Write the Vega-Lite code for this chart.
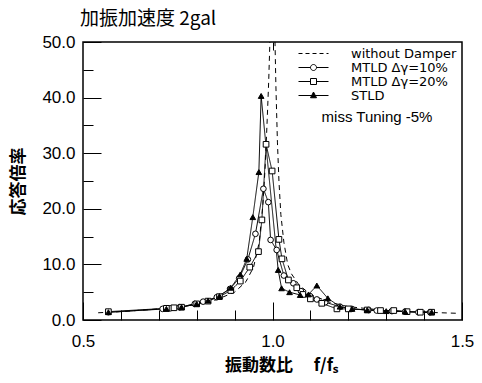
{
  "$schema": "https://vega.github.io/schema/vega-lite/v6.json",
  "width": 379,
  "height": 278,
  "autosize": {"type": "none"},
  "padding": {"left": 83, "top": 42, "right": 20, "bottom": 63},
  "background": "white",
  "title": {"text": "加振加速度 2gal", "anchor": "start", "frame": "group", "dx": -3, "font": "Noto Sans CJK JP", "fontSize": 19, "fontWeight": "normal", "color": "black", "offset": 4},
  "config": {
    "view": {"stroke": "black", "strokeWidth": 1.5},
    "axis": {"domain": false, "grid": false, "tickColor": "black", "tickWidth": 1, "labelColor": "black", "titleColor": "black", "labelFont": "Liberation Sans", "labelFontSize": 17, "titleFont": "Noto Sans CJK JP", "titleFontSize": 17, "titleFontWeight": "bold"},
    "legend": {"orient": "top-right", "offset": 5, "padding": 0, "titleOrient": "bottom", "titleAnchor": "middle", "titleFontSize": 15, "titleFontWeight": "normal", "titleFont": "Liberation Sans", "titleColor": "black", "titlePadding": 7, "labelFont": "DejaVu Sans", "labelFontSize": 13, "labelColor": "black", "labelOffset": 31, "symbolOffset": 10, "symbolSize": 100, "symbolStrokeWidth": 1, "symbolStrokeColor": "black", "symbolOpacity": 1, "rowPadding": 0}
  },
  "data": {"values": [
    {"s": "without Damper", "f": 0.54, "v": 1.3}, {"s": "without Damper", "f": 0.6, "v": 1.5}, {"s": "without Damper", "f": 0.7, "v": 2.0}, {"s": "without Damper", "f": 0.8, "v": 2.8}, {"s": "without Damper", "f": 0.85, "v": 3.6}, {"s": "without Damper", "f": 0.9, "v": 5.0}, {"s": "without Damper", "f": 0.93, "v": 6.9}, {"s": "without Damper", "f": 0.95, "v": 9.5}, {"s": "without Damper", "f": 0.965, "v": 14}, {"s": "without Damper", "f": 0.975, "v": 21}, {"s": "without Damper", "f": 0.981, "v": 28}, {"s": "without Damper", "f": 0.986, "v": 36}, {"s": "without Damper", "f": 0.99, "v": 43}, {"s": "without Damper", "f": 0.994, "v": 52}, {"s": "without Damper", "f": 0.999, "v": 62}, {"s": "without Damper", "f": 1.003, "v": 62}, {"s": "without Damper", "f": 1.006, "v": 52}, {"s": "without Damper", "f": 1.009, "v": 42}, {"s": "without Damper", "f": 1.013, "v": 32}, {"s": "without Damper", "f": 1.017, "v": 25}, {"s": "without Damper", "f": 1.022, "v": 19}, {"s": "without Damper", "f": 1.03, "v": 14}, {"s": "without Damper", "f": 1.04, "v": 10}, {"s": "without Damper", "f": 1.05, "v": 8.3}, {"s": "without Damper", "f": 1.07, "v": 6.3}, {"s": "without Damper", "f": 1.1, "v": 4.6}, {"s": "without Damper", "f": 1.15, "v": 3.2}, {"s": "without Damper", "f": 1.2, "v": 2.4}, {"s": "without Damper", "f": 1.3, "v": 1.7}, {"s": "without Damper", "f": 1.4, "v": 1.4}, {"s": "without Damper", "f": 1.49, "v": 1.2},

    {"s": "MTLD Δγ=10%", "f": 0.567, "v": 1.4}, {"s": "MTLD Δγ=10%", "f": 0.71, "v": 2.0}, {"s": "MTLD Δγ=10%", "f": 0.73, "v": 2.1}, {"s": "MTLD Δγ=10%", "f": 0.755, "v": 2.3}, {"s": "MTLD Δγ=10%", "f": 0.795, "v": 2.9}, {"s": "MTLD Δγ=10%", "f": 0.817, "v": 3.3}, {"s": "MTLD Δγ=10%", "f": 0.853, "v": 4.1}, {"s": "MTLD Δγ=10%", "f": 0.888, "v": 5.6}, {"s": "MTLD Δγ=10%", "f": 0.912, "v": 7.5}, {"s": "MTLD Δγ=10%", "f": 0.935, "v": 10.9}, {"s": "MTLD Δγ=10%", "f": 0.955, "v": 15.5}, {"s": "MTLD Δγ=10%", "f": 0.976, "v": 23.6}, {"s": "MTLD Δγ=10%", "f": 0.989, "v": 21.2}, {"s": "MTLD Δγ=10%", "f": 0.995, "v": 14.4}, {"s": "MTLD Δγ=10%", "f": 1.011, "v": 12.6}, {"s": "MTLD Δγ=10%", "f": 1.03, "v": 8.0}, {"s": "MTLD Δγ=10%", "f": 1.055, "v": 6.6}, {"s": "MTLD Δγ=10%", "f": 1.075, "v": 5.2}, {"s": "MTLD Δγ=10%", "f": 1.099, "v": 4.3}, {"s": "MTLD Δγ=10%", "f": 1.117, "v": 3.7}, {"s": "MTLD Δγ=10%", "f": 1.139, "v": 3.2}, {"s": "MTLD Δγ=10%", "f": 1.178, "v": 2.4}, {"s": "MTLD Δγ=10%", "f": 1.209, "v": 2.0}, {"s": "MTLD Δγ=10%", "f": 1.253, "v": 1.8}, {"s": "MTLD Δγ=10%", "f": 1.275, "v": 1.7}, {"s": "MTLD Δγ=10%", "f": 1.315, "v": 1.6}, {"s": "MTLD Δγ=10%", "f": 1.35, "v": 1.5}, {"s": "MTLD Δγ=10%", "f": 1.385, "v": 1.4}, {"s": "MTLD Δγ=10%", "f": 1.416, "v": 1.4},

    {"s": "MTLD Δγ=20%", "f": 0.567, "v": 1.5}, {"s": "MTLD Δγ=20%", "f": 0.72, "v": 2.1}, {"s": "MTLD Δγ=20%", "f": 0.74, "v": 2.2}, {"s": "MTLD Δγ=20%", "f": 0.76, "v": 2.3}, {"s": "MTLD Δγ=20%", "f": 0.8, "v": 2.9}, {"s": "MTLD Δγ=20%", "f": 0.83, "v": 3.4}, {"s": "MTLD Δγ=20%", "f": 0.86, "v": 4.2}, {"s": "MTLD Δγ=20%", "f": 0.89, "v": 5.3}, {"s": "MTLD Δγ=20%", "f": 0.915, "v": 7.0}, {"s": "MTLD Δγ=20%", "f": 0.94, "v": 9.5}, {"s": "MTLD Δγ=20%", "f": 0.963, "v": 12.3}, {"s": "MTLD Δγ=20%", "f": 0.972, "v": 18.0}, {"s": "MTLD Δγ=20%", "f": 0.983, "v": 31.6}, {"s": "MTLD Δγ=20%", "f": 0.999, "v": 26.8}, {"s": "MTLD Δγ=20%", "f": 1.017, "v": 14.5}, {"s": "MTLD Δγ=20%", "f": 1.025, "v": 11.0}, {"s": "MTLD Δγ=20%", "f": 1.042, "v": 7.2}, {"s": "MTLD Δγ=20%", "f": 1.064, "v": 5.8}, {"s": "MTLD Δγ=20%", "f": 1.08, "v": 4.6}, {"s": "MTLD Δγ=20%", "f": 1.1, "v": 3.8}, {"s": "MTLD Δγ=20%", "f": 1.13, "v": 3.0}, {"s": "MTLD Δγ=20%", "f": 1.17, "v": 2.0}, {"s": "MTLD Δγ=20%", "f": 1.2, "v": 2.0}, {"s": "MTLD Δγ=20%", "f": 1.25, "v": 1.8}, {"s": "MTLD Δγ=20%", "f": 1.285, "v": 1.7}, {"s": "MTLD Δγ=20%", "f": 1.32, "v": 1.7}, {"s": "MTLD Δγ=20%", "f": 1.355, "v": 1.5}, {"s": "MTLD Δγ=20%", "f": 1.39, "v": 1.4}, {"s": "MTLD Δγ=20%", "f": 1.42, "v": 1.4},

    {"s": "STLD", "f": 0.567, "v": 1.4}, {"s": "STLD", "f": 0.72, "v": 2.0}, {"s": "STLD", "f": 0.76, "v": 2.3}, {"s": "STLD", "f": 0.8, "v": 2.9}, {"s": "STLD", "f": 0.83, "v": 3.5}, {"s": "STLD", "f": 0.86, "v": 4.3}, {"s": "STLD", "f": 0.89, "v": 5.8}, {"s": "STLD", "f": 0.915, "v": 8.2}, {"s": "STLD", "f": 0.932, "v": 11.0}, {"s": "STLD", "f": 0.948, "v": 18.5}, {"s": "STLD", "f": 0.964, "v": 26.6}, {"s": "STLD", "f": 0.97, "v": 40.3}, {"s": "STLD", "f": 1.015, "v": 9.0}, {"s": "STLD", "f": 1.024, "v": 5.7}, {"s": "STLD", "f": 1.045, "v": 5.0}, {"s": "STLD", "f": 1.073, "v": 4.5}, {"s": "STLD", "f": 1.095, "v": 4.6}, {"s": "STLD", "f": 1.117, "v": 6.2}, {"s": "STLD", "f": 1.146, "v": 3.9}, {"s": "STLD", "f": 1.178, "v": 2.4}, {"s": "STLD", "f": 1.21, "v": 2.0}, {"s": "STLD", "f": 1.25, "v": 1.8}, {"s": "STLD", "f": 1.3, "v": 1.6}, {"s": "STLD", "f": 1.35, "v": 1.5}, {"s": "STLD", "f": 1.42, "v": 1.4}
  ]},
  "encoding": {
    "y": {"field": "v", "type": "quantitative", "scale": {"domain": [0, 50], "nice": false},
      "axis": {"values": [0, 5, 10, 15, 20, 25, 30, 35, 40, 45, 50],
        "labelExpr": "datum.value % 10 == 0 ? format(datum.value, '.1f') : ''",
        "tickSize": {"condition": {"test": "datum.value % 10 == 0", "value": -18}, "value": -10},
        "labelPadding": 26, "labelFlush": false, "title": "応答倍率", "titlePadding": 14}}
  },
  "layer": [
    {
      "mark": {"type": "line", "clip": true, "color": "black", "strokeWidth": 1},
      "encoding": {
        "x": {"field": "f", "type": "quantitative", "scale": {"domain": [0.5, 1.5], "nice": false, "zero": false},
          "axis": {"orient": "bottom", "values": [0.5, 0.6, 0.7, 0.8, 0.9, 1.0, 1.1, 1.2, 1.3, 1.4, 1.5],
            "labelExpr": "abs(datum.value*2 - round(datum.value*2)) < 0.01 ? format(datum.value, '.1f') : ''",
            "tickSize": {"condition": {"test": "abs(datum.value*2 - round(datum.value*2)) < 0.01", "value": -18}, "value": -10},
            "labelPadding": 31, "labelFlush": false, "title": "振動数比　  f/fₛ", "titleX": 198, "titlePadding": 8}},
        "detail": {"field": "s"},
        "strokeDash": {"field": "s", "type": "nominal", "scale": {"domain": ["without Damper", "MTLD Δγ=10%", "MTLD Δγ=20%", "STLD"], "range": [[5, 4], [1, 0], [1, 0], [1, 0]]}, "legend": null}
      }
    },
    {
      "transform": [{"filter": "datum.s != 'without Damper'"}],
      "mark": {"type": "point", "filled": true, "opacity": 1, "stroke": "black", "strokeWidth": 1, "size": 32, "clip": true},
      "encoding": {
        "x": {"field": "f", "type": "quantitative", "axis": null},
        "shape": {"field": "s", "type": "nominal", "scale": {"domain": ["MTLD Δγ=10%", "MTLD Δγ=20%", "STLD"], "range": ["circle", "square", "triangle-up"]}, "legend": null},
        "fill": {"field": "s", "type": "nominal", "scale": {"domain": ["MTLD Δγ=10%", "MTLD Δγ=20%", "STLD"], "range": ["white", "white", "black"]}, "legend": null}
      }
    },
    {
      "transform": [{"filter": "datum.f < 0"}],
      "mark": {"type": "point", "filled": true, "opacity": 1, "stroke": "black", "strokeWidth": 1},
      "encoding": {
        "x": {"field": "f", "type": "quantitative", "axis": {"orient": "top", "values": [1.0], "labels": false, "tickSize": -8, "title": null}},
        "shape": {"field": "s", "type": "nominal", "title": "miss Tuning  -5%", "scale": {"domain": ["without Damper", "MTLD Δγ=10%", "MTLD Δγ=20%", "STLD"], "range": ["M-3,0H-2.2M-1.6,0H-0.8M-0.2,0H0.6M1.2,0H2M2.6,0H3", "M-3,0H-0.6M0.6,0H3M-0.6,0A0.6,0.6 0 1,1 0.6,0A0.6,0.6 0 1,1 -0.6,0Z", "M-3,0H-0.6M0.6,0H3M-0.6,-0.6H0.6V0.6H-0.6Z", "M-3,0H3M0,-0.7L0.6,0.45H-0.6Z"]},
          "legend": {"encode": {"symbols": {"update": {"stroke": {"value": "black"}, "strokeWidth": {"value": 1}, "opacity": {"value": 1}}}}}},
        "fill": {"field": "s", "type": "nominal", "title": "miss Tuning  -5%", "scale": {"domain": ["without Damper", "MTLD Δγ=10%", "MTLD Δγ=20%", "STLD"], "range": ["white", "white", "white", "black"]},
          "legend": {"encode": {"symbols": {"update": {"stroke": {"value": "black"}, "strokeWidth": {"value": 1}, "opacity": {"value": 1}}}}}}
      }
    }
  ],
  "resolve": {"scale": {"shape": "independent", "fill": "independent"}, "axis": {"x": "independent"}, "legend": {"shape": "independent", "fill": "independent"}}
}
